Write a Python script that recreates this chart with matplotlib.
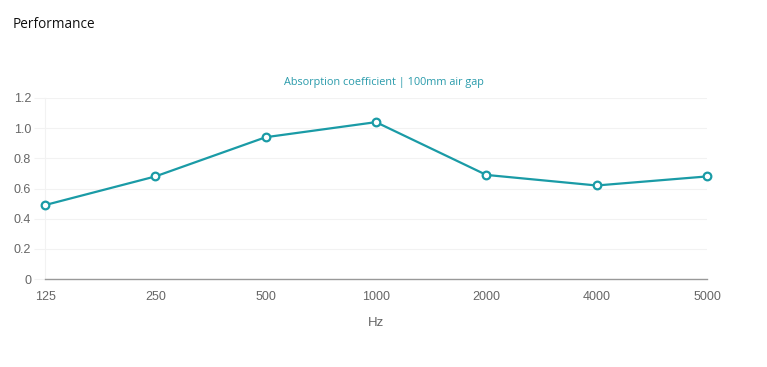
import matplotlib
matplotlib.use("Agg")
import matplotlib.pyplot as plt

categories = ["125", "250", "500", "1000", "2000", "4000", "5000"]
values = [0.49, 0.68, 0.94, 1.04, 0.69, 0.62, 0.68]
yticks = [0, 0.2, 0.4, 0.6, 0.8, 1.0, 1.2]
ytick_labels = ["0", "0.2", "0.4", "0.6", "0.8", "1.0", "1.2"]

W, H = 767, 367
fig = plt.figure(figsize=(W / 100, H / 100), dpi=100)
ax = fig.add_axes([45 / W, (H - 279) / H, (707 - 45) / W, (279 - 98) / H])

color = "#1a9ba6"
x = list(range(len(categories)))
ax.plot(x, values, color=color, lw=1.6, marker="o", ms=5.5, mfc="white",
        mec=color, mew=1.6, zorder=3, clip_on=False)

ax.set_xlim(0, len(categories) - 1)
ax.set_ylim(0, 1.2)
ax.set_xticks(x)
ax.set_xticklabels(categories, family="Liberation Sans", fontsize=9, color="#666666")
ax.set_yticks(yticks)
ax.set_yticklabels(ytick_labels, family="Liberation Sans", fontsize=9, color="#666666")
ax.tick_params(axis="x", length=0, pad=9)
ax.tick_params(axis="y", length=8, color="#f2f2f2", width=0.8, pad=2)
ax.yaxis.get_major_ticks()[0].tick1line.set_color("#999999")

ax.grid(True, axis="y", color="#f2f2f2", lw=0.8)
ax.set_axisbelow(True)
for s in ["top", "right"]:
    ax.spines[s].set_visible(False)
ax.spines["left"].set_color("#f2f2f2")
ax.spines["bottom"].set_color("#999999")
ax.spines["bottom"].set_linewidth(1)

ax.set_xlabel("Hz", family="Liberation Sans", fontsize=9.5, color="#666666", labelpad=10)

fig.text(384 / W, 1 - 83 / H, "Absorption coefficient | 100mm air gap",
         ha="center", va="center", family="Open Sans", fontsize=7.8, color="#2a9bab")
fig.text(13 / W, 1 - 25 / H, "Performance", ha="left", va="center",
         family="Open Sans", fontsize=9.8, color="#111111")

fig.savefig("out.png", dpi=100)
